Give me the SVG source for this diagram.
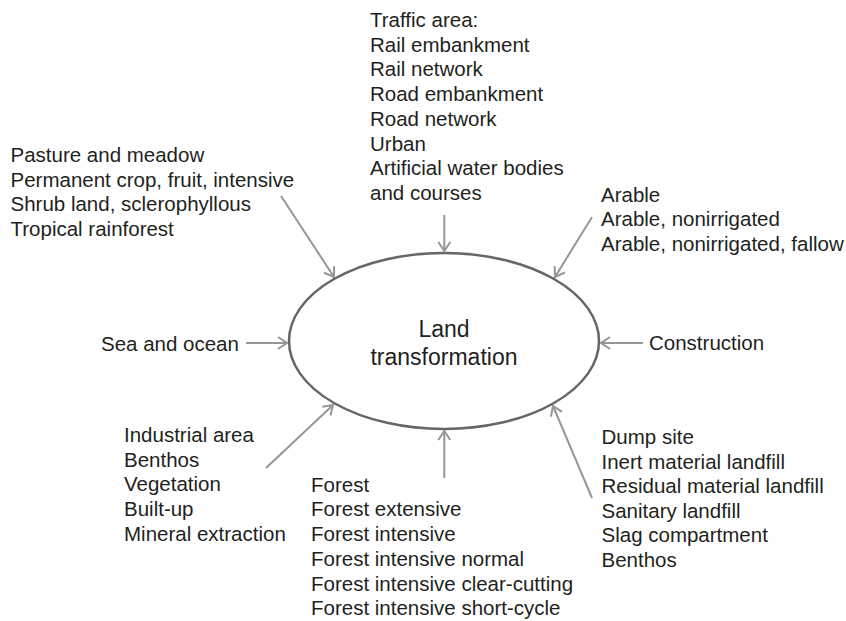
<svg xmlns="http://www.w3.org/2000/svg" width="846" height="621" viewBox="0 0 846 621">
  <style>
    text { font-family: "Liberation Sans", Arial, sans-serif; font-size: 20.5px; fill: #231f20; }
    .center { font-size: 23px; text-anchor: middle; }
    .conn { stroke: #969696; stroke-width: 2; fill: none; marker-end: url(#arrow); }
    .hub { fill: #ffffff; stroke: #666666; stroke-width: 2.5; }
  </style>
  <defs>
    <marker id="arrow" markerUnits="userSpaceOnUse" markerWidth="14" markerHeight="14" viewBox="0 0 14 14" refX="12" refY="7" orient="auto">
      <path d="M3,1 L12,7 L3,13" fill="none" stroke="#969696" stroke-width="2"/>
    </marker>
  </defs>

  <rect width="846" height="621" fill="#ffffff"/>

  <!-- connectors -->
  <g id="connectors">
    <line class="conn" x1="281" y1="196" x2="334" y2="277"/>
    <line class="conn" x1="444.3" y1="215" x2="444.3" y2="251"/>
    <line class="conn" x1="592" y1="217" x2="555" y2="277"/>
    <line class="conn" x1="246" y1="343" x2="287" y2="343"/>
    <line class="conn" x1="643" y1="343" x2="601" y2="343"/>
    <line class="conn" x1="266" y1="468" x2="333" y2="405"/>
    <line class="conn" x1="444.3" y1="478" x2="444.3" y2="431"/>
    <line class="conn" x1="592" y1="498" x2="553" y2="406"/>
  </g>

  <!-- central node -->
  <g id="land-transformation">
    <ellipse class="hub" cx="444" cy="341" rx="155" ry="88"/>
    <text class="center" x="444" y="337">Land</text>
    <text class="center" x="444" y="365">transformation</text>
  </g>

  <g id="pasture">
    <text x="10.5" y="162">Pasture and meadow</text>
    <text x="10.5" y="186.7">Permanent crop, fruit, intensive</text>
    <text x="10.5" y="211.4">Shrub land, sclerophyllous</text>
    <text x="10.5" y="236.1">Tropical rainforest</text>
  </g>

  <g id="traffic">
    <text x="370" y="27">Traffic area:</text>
    <text x="370" y="51.7">Rail embankment</text>
    <text x="370" y="76.4">Rail network</text>
    <text x="370" y="101.1">Road embankment</text>
    <text x="370" y="125.8">Road network</text>
    <text x="370" y="150.5">Urban</text>
    <text x="370" y="175.2">Artificial water bodies</text>
    <text x="370" y="199.9">and courses</text>
  </g>

  <g id="arable">
    <text x="601" y="201.5">Arable</text>
    <text x="601" y="226">Arable, nonirrigated</text>
    <text x="601" y="250.5">Arable, nonirrigated, fallow</text>
  </g>

  <g id="sea">
    <text x="101" y="350.5">Sea and ocean</text>
  </g>

  <g id="construction">
    <text x="649" y="350">Construction</text>
  </g>

  <g id="industrial">
    <text x="124" y="442">Industrial area</text>
    <text x="124" y="466.7">Benthos</text>
    <text x="124" y="491.4">Vegetation</text>
    <text x="124" y="516.1">Built-up</text>
    <text x="124" y="540.8">Mineral extraction</text>
  </g>

  <g id="forest">
    <text x="311" y="491.7">Forest</text>
    <text x="311" y="516.4">Forest extensive</text>
    <text x="311" y="541.1">Forest intensive</text>
    <text x="311" y="565.8">Forest intensive normal</text>
    <text x="311" y="590.5">Forest intensive clear-cutting</text>
    <text x="311" y="615.2">Forest intensive short-cycle</text>
  </g>

  <g id="landfill">
    <text x="601.5" y="444">Dump site</text>
    <text x="601.5" y="468.6">Inert material landfill</text>
    <text x="601.5" y="493.2">Residual material landfill</text>
    <text x="601.5" y="517.8">Sanitary landfill</text>
    <text x="601.5" y="542.4">Slag compartment</text>
    <text x="601.5" y="567">Benthos</text>
  </g>
</svg>
